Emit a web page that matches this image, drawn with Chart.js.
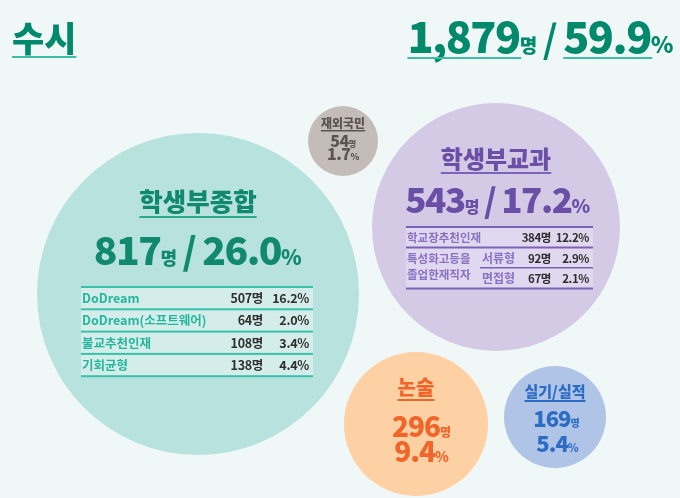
<!DOCTYPE html>
<html><head><meta charset="utf-8">
<script src="https://cdn.jsdelivr.net/npm/chart.js@4/dist/chart.umd.min.js"></script>
<style>html,body{margin:0;padding:0;background:#eff8f7;}canvas{display:block}</style>
</head><body><canvas id="c" width="680" height="498"></canvas>
<script>
// ---- data ----
const categories = ['학생부종합','학생부교과','재외국민','논술','실기/실적'];
const counts = [817,543,54,296,169];
const shares = [26.0,17.2,1.7,9.4,5.4];
const totalLabel = '수시';
const totalCount = 1879;
const totalShare = 59.9;
const jonghapLabels = ['DoDream','DoDream(소프트웨어)','불교추천인재','기회균형'];
const jonghapCounts = [507,64,108,138];
const jonghapShares = [16.2,2.0,3.4,4.4];
const gyogwaLabels = ['학교장추천인재','서류형','면접형'];
const gyogwaGroups = ['', '특성화고등을\n졸업한재직자', '특성화고등을\n졸업한재직자'];
const gyogwaCounts = [384,92,67];
const gyogwaShares = [12.2,2.9,2.1];

// ---- layout (positions / sizes, px) ----
const bubbleX = [198,496,343,416,555];
const bubbleY = [294,227,141,424,417];
const bubbleR = [161,124,35,72,51];
const bubbleColors = ['#b7e2de','#d4cae6','#c4bcb8','#fdd1a3','#afc4e7'];
const textColors = ['#10896e','#6b4ea6','#5b5552','#f2652a','#2c6dc3'];

const FONT = "'Noto Sans CJK KR','Noto Sans',sans-serif";
function f(size, w){ return (w||700)+' '+size+'px '+FONT; }
const fmtN = n => n.toLocaleString('en-US');
const fmtP = p => p.toFixed(1);

function runs(ctx, list, x, y, align, ls){
  ctx.save();
  ctx.textBaseline='alphabetic';
  ctx.letterSpacing = (ls||0)+'px';
  let total=0; const ws=[];
  list.forEach(r=>{ ctx.font=r.font; const w=ctx.measureText(r.t).width; ws.push(w); total+=w; });
  let sx = align==='center'? x-total/2 : align==='right'? x-total : x;
  list.forEach((r,i)=>{
    ctx.font=r.font; ctx.fillStyle=r.color; ctx.textAlign='left';
    ctx.fillText(r.t, sx, y);
    if(r.ul){ ctx.fillStyle=r.ulColor||r.color; ctx.fillRect(sx, y+r.ul, ws[i]-(ls||0), r.ulw||2); }
    sx+=ws[i];
  });
  ctx.restore();
  return total;
}
function text(ctx, t, x, y, font, color, align, ls){
  ctx.save(); ctx.font=font; ctx.fillStyle=color; ctx.textAlign=align||'left'; ctx.textBaseline='alphabetic';
  ctx.letterSpacing=(ls||0)+'px';
  ctx.fillText(t,x,y); ctx.restore();
}

const labelPlugin = {
  id:'labels',
  afterDatasetsDraw(chart){
    const ctx = chart.ctx;
    const meta = chart.getDatasetMeta(0);
    const P = meta.data.map(e=>({x:e.x,y:e.y}));
    const area = chart.chartArea;
    const green='#00896b', ulGreen='#3dbfa5';
    // header
    runs(ctx,[{t:totalLabel,font:f(35,900),color:green,ul:4,ulColor:ulGreen}], area.left+12, area.top+52,'left');
    runs(ctx,[
      {t:fmtN(totalCount),font:f(43,900),color:green,ul:4,ulColor:ulGreen},
      {t:'명',font:f(19,900),color:green},
      {t:' / ',font:f(38,700),color:green},
      {t:fmtP(totalShare),font:f(43,900),color:green,ul:4,ulColor:ulGreen},
      {t:'%',font:f(23,900),color:green}
    ], area.right-8, area.top+53,'right',-1.5);

    // 0: 학생부종합
    let c=P[0], col=textColors[0];
    runs(ctx,[{t:categories[0],font:f(25.5,900),color:col,ul:5,ulColor:'#2fa88c'}], c.x, c.y-83,'center');
    runs(ctx,[
      {t:String(counts[0]),font:f(39,900),color:col},
      {t:'명',font:f(18,900),color:col},
      {t:' / ',font:f(37,900),color:col},
      {t:fmtP(shares[0]),font:f(39,900),color:col},
      {t:'%',font:f(21,900),color:col}
    ], c.x-1, c.y-29,'center',-1.5);
    {
      const x0=c.x-117, x1=c.x+115, top=c.y-7, rh=22.3;
      ctx.fillStyle='#d5edea'; ctx.fillRect(x0,top,x1-x0,rh*jonghapLabels.length);
      ctx.fillStyle='#38c2aa';
      for(let i=0;i<=jonghapLabels.length;i++) ctx.fillRect(x0, top+i*rh-1, x1-x0, 2);
      jonghapLabels.forEach((l,i)=>{
        const by=top+i*rh+16;
        text(ctx,l,x0+1,by,f(12.5,700),'#22b79d');
        text(ctx,jonghapCounts[i]+'명',c.x+65,by,f(12.5,700),'#2e2e2e','right',-0.3);
        text(ctx,fmtP(jonghapShares[i])+'%',c.x+111,by,f(12.5,700),'#2e2e2e','right',-0.3);
      });
    }

    // 1: 학생부교과
    c=P[1]; col=textColors[1];
    runs(ctx,[{t:categories[1],font:f(24,900),color:col,ul:4,ulColor:'#7c62bb'}], c.x, c.y-59,'center');
    runs(ctx,[
      {t:String(counts[1]),font:f(35,900),color:col},
      {t:'명',font:f(16,900),color:col},
      {t:' / ',font:f(33,900),color:col},
      {t:fmtP(shares[1]),font:f(35,900),color:col},
      {t:'%',font:f(19,900),color:col}
    ], c.x+1, c.y-14,'center',-1.5);
    {
      const x0=c.x-90, x1=c.x+97, top=c.y, rh=20.5, sx=c.x-14;
      ctx.fillStyle='#e0d8ee'; ctx.fillRect(x0,top,x1-x0,rh*3);
      ctx.fillStyle='#7b62b8';
      ctx.fillRect(x0,top-1,x1-x0,2);
      ctx.fillRect(x0,top+rh-1,x1-x0,2);
      ctx.fillRect(sx-2,top+2*rh-1,x1-sx+2,1.5);
      ctx.fillRect(x0,top+3*rh-1,x1-x0,2);
      const lab='#8a70c2';
      gyogwaLabels.forEach((l,i)=>{
        const by=top+i*rh+15;
        if(gyogwaGroups[i]==='') text(ctx,l,x0+1,by,f(11.5,700),lab);
        else text(ctx,l,sx,by,f(12,700),lab);
        text(ctx,gyogwaCounts[i]+'명',c.x+55,by,f(11.5,700),'#2e2e2e','right',-0.4);
        text(ctx,fmtP(gyogwaShares[i])+'%',c.x+93,by,f(11.5,700),'#2e2e2e','right',-0.4);
      });
      const g = gyogwaGroups[1].split('\n');
      text(ctx,g[0],x0+1,top+rh+15,f(11.5,700),lab);
      text(ctx,g[1],x0+1,top+rh+31,f(11.5,700),lab);
    }

    // 2: 재외국민
    c=P[2]; col=textColors[2];
    runs(ctx,[{t:categories[2],font:f(12,900),color:col,ul:2,ulw:1.5}], c.x, c.y-13,'center');
    runs(ctx,[{t:String(counts[2]),font:f(16,900),color:col},{t:'명',font:f(8,900),color:col}], c.x, c.y+6,'center',-0.5);
    runs(ctx,[{t:fmtP(shares[2]),font:f(16,900),color:col},{t:'%',font:f(9,900),color:col}], c.x, c.y+19,'center',-0.5);

    // 3: 논술
    c=P[3]; col=textColors[3];
    runs(ctx,[{t:categories[3],font:f(20,900),color:col,ul:4}], c.x, c.y-29,'center');
    runs(ctx,[{t:String(counts[3]),font:f(28,900),color:col},{t:'명',font:f(12,900),color:col}], c.x+5, c.y+13,'center',-1);
    runs(ctx,[{t:fmtP(shares[3]),font:f(28,900),color:col},{t:'%',font:f(14,900),color:col}], c.x+5, c.y+38,'center',-1);

    // 4: 실기/실적
    c=P[4]; col=textColors[4];
    runs(ctx,[{t:categories[4],font:f(15,900),color:col,ul:3}], c.x, c.y-20,'center');
    runs(ctx,[{t:String(counts[4]),font:f(22,900),color:col},{t:'명',font:f(10,900),color:col}], c.x+1, c.y+10,'center',-1);
    runs(ctx,[{t:fmtP(shares[4]),font:f(22,900),color:col},{t:'%',font:f(11,900),color:col}], c.x+2, c.y+35,'center',-1);
  }
};

new Chart(document.getElementById('c'), {
  type:'bubble',
  data:{ datasets:[{
    data: categories.map((c,i)=>({x:bubbleX[i], y:bubbleY[i], r:bubbleR[i]})),
    backgroundColor: bubbleColors, borderWidth:0, hoverBorderWidth:0, hoverRadius:0, clip:false
  }]},
  options:{
    responsive:false, animation:false, events:[],
    layout:{padding:0, autoPadding:false},
    scales:{
      x:{type:'linear',min:0,max:680,display:false},
      y:{type:'linear',min:0,max:498,reverse:true,display:false}
    },
    plugins:{legend:{display:false}, tooltip:{enabled:false}, title:{display:false}}
  },
  plugins:[labelPlugin]
});
</script></body></html>
